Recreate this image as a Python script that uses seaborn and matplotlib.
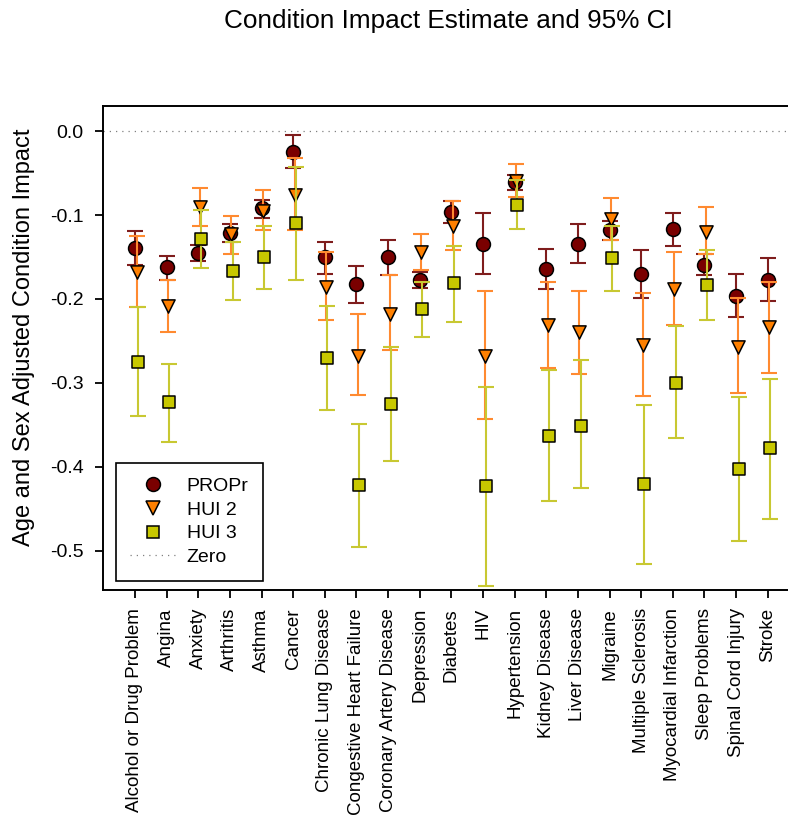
import numpy as np
import pandas as pd
import matplotlib
matplotlib.use("Agg")
import matplotlib.pyplot as plt
from matplotlib.lines import Line2D
import seaborn as sns

# condition names (x axis)
conditions = ["Alcohol or Drug Problem", "Angina", "Anxiety", "Arthritis", "Asthma",
              "Cancer", "Chronic Lung Disease", "Congestive Heart Failure",
              "Coronary Artery Disease", "Depression", "Diabetes", "HIV", "Hypertension",
              "Kidney Disease", "Liver Disease", "Migraine", "Multiple Sclerosis",
              "Myocardial Infarction", "Sleep Problems", "Spinal Cord Injury", "Stroke"]

# PROPr estimate and 95% CI
propr_est = [-0.139, -0.162, -0.145, -0.121, -0.092, -0.025, -0.150, -0.182, -0.150, -0.178, -0.096,
             -0.134, -0.061, -0.164, -0.134, -0.118, -0.170, -0.117, -0.159, -0.196, -0.177]
propr_hi = [-0.119, -0.149, -0.136, -0.111, -0.082, -0.004, -0.132, -0.161, -0.130, -0.168, -0.083,
            -0.098, -0.052, -0.141, -0.111, -0.107, -0.142, -0.097, -0.147, -0.170, -0.151]
propr_lo = [-0.159, -0.178, -0.155, -0.132, -0.104, -0.044, -0.170, -0.205, -0.172, -0.187, -0.110,
            -0.170, -0.070, -0.188, -0.157, -0.130, -0.199, -0.137, -0.172, -0.222, -0.203]

# HUI 2 estimate and 95% CI
hui2_est = [-0.168, -0.209, -0.091, -0.123, -0.095, -0.076, -0.186, -0.268, -0.218, -0.144, -0.113,
            -0.268, -0.059, -0.231, -0.239, -0.105, -0.255, -0.188, -0.120, -0.257, -0.234]
hui2_hi = [-0.125, -0.178, -0.068, -0.101, -0.070, -0.032, -0.144, -0.218, -0.172, -0.122, -0.083,
           -0.190, -0.039, -0.180, -0.190, -0.080, -0.193, -0.144, -0.091, -0.199, -0.180]
hui2_lo = [-0.210, -0.239, -0.113, -0.146, -0.118, -0.118, -0.225, -0.315, -0.261, -0.165, -0.142,
           -0.343, -0.078, -0.282, -0.289, -0.130, -0.316, -0.231, -0.147, -0.312, -0.288]

# HUI 3 estimate and 95% CI
hui3_est = [-0.275, -0.323, -0.128, -0.167, -0.150, -0.110, -0.271, -0.422, -0.325, -0.212, -0.181,
            -0.423, -0.088, -0.363, -0.351, -0.151, -0.421, -0.300, -0.183, -0.403, -0.378]
hui3_hi = [-0.210, -0.277, -0.094, -0.132, -0.113, -0.043, -0.209, -0.349, -0.257, -0.180, -0.137,
           -0.305, -0.058, -0.285, -0.273, -0.113, -0.326, -0.232, -0.142, -0.317, -0.295]
hui3_lo = [-0.339, -0.370, -0.163, -0.201, -0.188, -0.178, -0.333, -0.496, -0.393, -0.245, -0.227,
           -0.542, -0.117, -0.441, -0.425, -0.191, -0.516, -0.366, -0.225, -0.489, -0.462]

yticks = [0.0, -0.1, -0.2, -0.3, -0.4, -0.5]

sns.set_theme(style="ticks")
plt.rcParams["font.family"] = ["Liberation Sans", "DejaVu Sans"]
plt.rcParams["axes.unicode_minus"] = False
for key in ["text.color", "axes.labelcolor", "xtick.color", "ytick.color", "axes.edgecolor"]:
    plt.rcParams[key] = "black"

fig = plt.figure(figsize=(7.88, 8.18), dpi=100)
ax = fig.add_axes([103 / 788, 1 - 590 / 818, 685 / 788, 484 / 818])

# series settings: name, est, lo, hi, marker, fill, bar colour, size, x offset
series = [
    ("PROPr", propr_est, propr_lo, propr_hi, "o", "#7a0000", "#7f1d1d", 10, 0.0),
    ("HUI 2", hui2_est, hui2_lo, hui2_hi, "v", "#ff8000", "#ff8a30", 9.5, 0.05),
    ("HUI 3", hui3_est, hui3_lo, hui3_hi, "s", "#c8c800", "#c8c832", 8, 0.085),
]

xpos = np.arange(len(conditions))
handles = []
for i, (name, est, lo, hi, mk, fill, barc, ms, off) in enumerate(series):
    est = np.array(est)
    df = pd.DataFrame({"x": xpos + off, "y": est})
    yerr = [est - np.array(lo), np.array(hi) - est]
    ax.errorbar(df["x"], df["y"], yerr=yerr, fmt="none", ecolor=barc, elinewidth=1.5,
                capsize=5.6, capthick=1.5, zorder=2 + 2 * i)
    sns.scatterplot(data=df, x="x", y="y", marker=mk, color=fill, s=ms ** 2,
                    edgecolor="black", linewidth=1.1, ax=ax, zorder=3 + 2 * i)
    handles.append(Line2D([], [], linestyle="none", marker=mk, markersize=ms,
                          markerfacecolor=fill, markeredgecolor="black",
                          markeredgewidth=1.1, label=name))

# zero reference line
ax.axhline(0, color="gray", linestyle=(0, (1, 4)), linewidth=0.9, zorder=1)
handles.append(Line2D([], [], color="gray", linestyle=(0, (1, 4)), linewidth=0.9, label="Zero"))

ax.set_xlim(-1.01, 20.64)
ax.set_ylim(-0.547, 0.030)
ax.set_xticks(xpos)
ax.set_xticklabels(conditions, rotation=90, fontsize=13.5)
ax.set_yticks(yticks)
ax.set_yticklabels([f"{t:.1f}" for t in yticks], fontsize=14)
ax.set_xlabel("")
ax.set_ylabel("")
ax.tick_params(axis="both", direction="out", length=6, width=1.3, color="black")
ax.tick_params(axis="y", pad=8)
ax.tick_params(axis="x", pad=7)
for s in ["left", "bottom", "top"]:
    ax.spines[s].set_linewidth(1.4)
    ax.spines[s].set_color("black")
ax.spines["right"].set_visible(False)

leg = ax.legend(handles=handles, loc="lower left", bbox_to_anchor=(0.0185, 0.019),
                borderaxespad=0, fontsize=14, frameon=True, fancybox=False,
                edgecolor="black", framealpha=1, handlelength=2.3, handletextpad=0.6,
                labelspacing=0.32, borderpad=0.75)
leg.get_frame().set_linewidth(1.2)

fig.text(448 / 788, 1 - 21 / 818, "Condition Impact Estimate and 95% CI",
         ha="center", va="center", fontsize=18.8)
fig.text(24 / 788, 1 - 337 / 818, "Age and Sex Adjusted Condition Impact",
         rotation=90, ha="center", va="center", fontsize=17)

fig.savefig("out.png", dpi=100)
